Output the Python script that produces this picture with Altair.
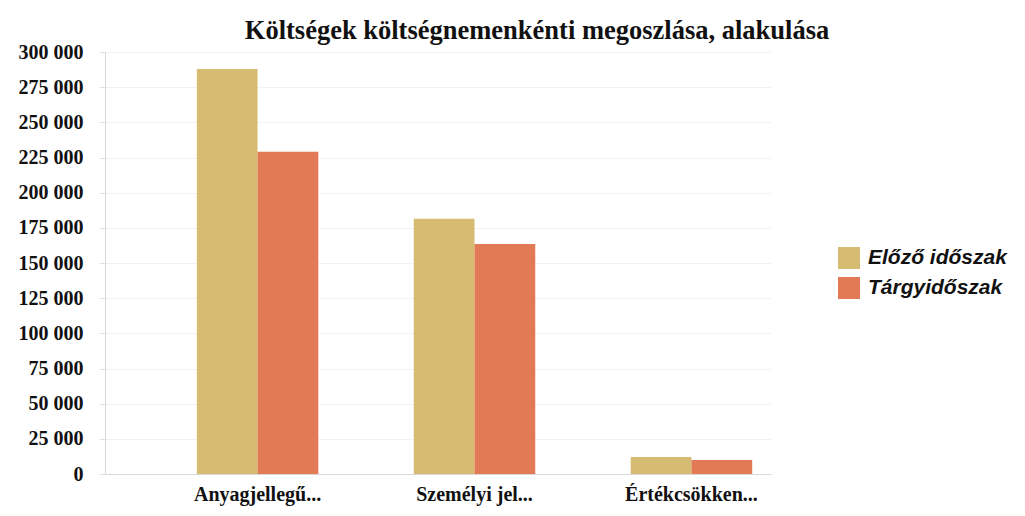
import altair as alt
import pandas as pd

categories = ["Anyagjellegű...", "Személyi jel...", "Értékcsökken..."]
series = ["Előző időszak", "Tárgyidőszak"]
elozo = [288000, 181500, 12000]
targy = [229000, 163500, 10000]
y_ticks = list(range(0, 300001, 25000))

rows = []
for c, a, b in zip(categories, elozo, targy):
    rows.append({"cat": c, "series": series[0], "value": a})
    rows.append({"cat": c, "series": series[1], "value": b})
df = pd.DataFrame(rows)

chart = alt.Chart(df).mark_bar().encode(
    x=alt.X("cat:N", sort=categories, title=None,
            scale=alt.Scale(paddingInner=0.44, paddingOuter=0.255, align=0.83),
            axis=alt.Axis(labelAngle=0, labelFont="Liberation Serif", labelFontWeight="bold",
                          labelFontSize=20, labelColor="#111", labelPadding=10,
                          ticks=False, domainColor="#d8d8d8", grid=False)),
    xOffset=alt.XOffset("series:N", sort=series),
    y=alt.Y("value:Q", title=None,
            scale=alt.Scale(domain=[0, 300000], nice=False),
            axis=alt.Axis(values=y_ticks,
                          labelExpr="replace(format(datum.value, ','), regexp(',', 'g'), ' ')",
                          labelFont="Liberation Serif", labelFontWeight="bold", labelFontSize=20,
                          labelColor="#111", labelPadding=16, tickColor="#e0e0e0", tickSize=6,
                          domainColor="#d8d8d8", gridColor="#f2f2f2")),
    color=alt.Color("series:N", sort=series,
                    scale=alt.Scale(domain=series, range=["#D6BC72", "#E27A56"]),
                    legend=alt.Legend(title=None, orient="none", legendX=733, legendY=195,
                                      symbolType="square", symbolSize=484, symbolStrokeWidth=0,
                                      labelFont="Liberation Sans", labelFontStyle="italic",
                                      labelFontWeight="bold",
                                      labelFontSize=21, labelColor="#111", rowPadding=8,
                                      labelOffset=8)),
).properties(
    width=666, height=422,
    background="white",
    padding={"left": 97, "top": 44, "right": 246, "bottom": 34},
    autosize=alt.AutoSizeParams(type="none"),
    title=alt.TitleParams("Költségek költségnemenkénti megoszlása, alakulása",
                          font="Liberation Serif", fontWeight="bold", fontSize=26.5,
                          color="#111", anchor="middle", dx=99, dy=8, offset=6),
).configure_view(stroke=None)

chart.save("out.html", embed_options={"renderer": "svg", "actions": False})
